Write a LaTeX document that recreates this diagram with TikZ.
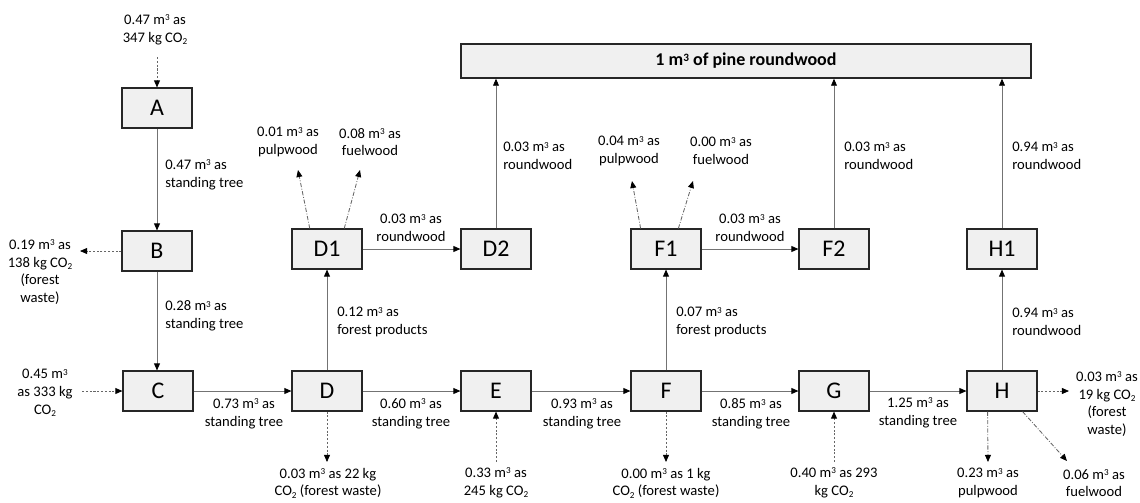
\documentclass[tikz,border=0pt]{standalone}
\usepackage{fontspec}
\setmainfont{Carlito}
\usetikzlibrary{arrows.meta}
\newcommand{\mcu}{m\raisebox{0.55ex}{\fontsize{6.5}{6.5}\selectfont 3}}
\newcommand{\mcubig}{m\raisebox{0.55ex}{\fontsize{8}{8}\selectfont\bfseries 3}}
\newcommand{\cotwo}{CO\raisebox{-0.35ex}{\fontsize{6.5}{6.5}\selectfont 2}}
\begin{document}
\begin{tikzpicture}[x=0.025cm,y=-0.025cm,
  box/.style={draw=black!85,line width=0.8pt,fill=black!6,minimum width=1.75cm,minimum height=1cm,inner sep=0pt,font=\fontsize{17}{20}\selectfont},
  bar/.style={draw=black!85,line width=1pt,fill=black!6,minimum width=14.25cm,minimum height=0.85cm,inner sep=0pt,font=\fontsize{12.8}{14}\selectfont\bfseries},
  lbl/.style={font=\fontsize{10.4}{12.6}\selectfont,align=center,inner sep=0pt},
  lbll/.style={lbl,align=left,anchor=west},
  tipstyle/.style={-{Triangle[length=5pt,width=4.2pt,color=black]}},
  flow/.style={draw=black!55,line width=0.6pt,tipstyle},
  dotarr/.style={draw=black!60,line width=0.6pt,dash pattern=on 1.5pt off 1.2pt,tipstyle},
  dasharr/.style={draw=black!60,line width=0.6pt,dash pattern=on 3pt off 1.2pt on 0.6pt off 1.2pt,tipstyle}]
\useasboundingbox (0,0) rectangle (1140,502);

% boxes
\node[box] (A) at (157,108) {A};
\node[box] (B) at (157,251) {B};
\node[box] (C) at (158,391) {C};
\node[box] (D) at (327,391) {D};
\node[box] (E) at (496,391) {E};
\node[box] (F) at (666,391) {F};
\node[box] (G) at (834,391) {G};
\node[box] (H) at (1002,391) {H};
\node[box] (D1) at (327,249) {D1};
\node[box] (D2) at (496,249) {D2};
\node[box] (F1) at (666,249) {F1};
\node[box] (F2) at (834,249) {F2};
\node[box] (H1) at (1002,249) {H1};
\node[bar] (R) at (746,61) {1 \mcubig\ of pine roundwood};

% free ends
\coordinate (inA) at (157,57);
\coordinate (oB) at (80,251);
\coordinate (iC) at (82,391);
\coordinate (oD) at (327,462);
\coordinate (iE) at (496,462);
\coordinate (oF) at (666,462);
\coordinate (iG) at (834,462);
\coordinate (hp) at (988,462);
\coordinate (hf) at (1067,461);
\coordinate (oH) at (1069,391);
\coordinate (d1p) at (298,170);
\coordinate (d1f) at (360,170);
\coordinate (f1p) at (632,181);
\coordinate (f1f) at (693,181);

% main flows
\draw[flow] (A) -- (B);
\draw[flow] (B) -- (B |- C.north);
\draw[flow] (C) -- (D);
\draw[flow] (D) -- (E);
\draw[flow] (E) -- (F);
\draw[flow] (F) -- (G);
\draw[flow] (G) -- (H);
\draw[flow] (D) -- (D1);
\draw[flow] (F) -- (F1);
\draw[flow] (H) -- (H1);
\draw[flow] (D1) -- (D2);
\draw[flow] (F1) -- (F2);
\draw[flow] (D2) -- (D2 |- R.south);
\draw[flow] (F2) -- (F2 |- R.south);
\draw[flow] (H1) -- (H1 |- R.south);

% in/out flows
\draw[dotarr] (inA) -- (A);
\draw[dotarr] (B) -- (oB);
\draw[dotarr] (iC) -- (C);
\draw[dotarr] (D) -- (oD);
\draw[dotarr] (iE) -- (E);
\draw[dotarr] (F) -- (oF);
\draw[dotarr] (iG) -- (G);
\draw[dotarr] (H) -- (oH);
\draw[dasharr] (H.-125) -- (hp);
\draw[dasharr] (H.-45) -- (hf);
\draw[dasharr] (D1.130) -- (d1p);
\draw[dasharr] (D1.50) -- (d1f);
\draw[dasharr] (F1.141) -- (f1p);
\draw[dasharr] (F1.59) -- (f1f);

% labels
\node[lbl] (tA) at (155,30) {0.47 \mcu\ as\\347 kg \cotwo};
\node[lbll] (lAB) at (165,175) {0.47 \mcu\ as\\standing tree};
\node[lbll] (lBC) at (165,316) {0.28 \mcu\ as\\standing tree};
\node[lbl] (tB) at (40,272) {0.19 \mcu\ as\\138 kg \cotwo\\(forest\\waste)};
\node[lbl] (tC) at (45,393) {0.45 \mcu\\as 333 kg\\\cotwo};
\node[lbl] (lCD) at (244,414) {0.73 \mcu\ as\\standing tree};
\node[lbl] (lDE) at (411,414) {0.60 \mcu\ as\\standing tree};
\node[lbl] (lEF) at (582,414) {0.93 \mcu\ as\\standing tree};
\node[lbl] (lFG) at (751,414) {0.85 \mcu\ as\\standing tree};
\node[lbl] (lGH) at (918,413) {1.25 \mcu\ as\\standing tree};
\node[lbl] (tD) at (328,483) {0.03 \mcu\ as 22 kg\\\cotwo\ (forest waste)};
\node[lbl] (tE) at (496,483) {0.33 \mcu\ as\\245 kg \cotwo};
\node[lbl] (tF) at (666,483) {0.00 \mcu\ as 1 kg\\\cotwo\ (forest waste)};
\node[lbl] (tG) at (834,483) {0.40 \mcu\ as 293\\kg \cotwo};
\node[lbl] (tHp) at (988,483) {0.23 \mcu\ as\\pulpwood};
\node[lbl] (tHf) at (1094,483) {0.06 \mcu\ as\\fuelwood};
\node[lbl] (tH) at (1107,404) {0.03 \mcu\ as\\19 kg \cotwo\\(forest\\waste)};
\node[lbll] (lDD1) at (337,322) {0.12 \mcu\ as\\forest products};
\node[lbll] (lFF1) at (676,322) {0.07 \mcu\ as\\forest products};
\node[lbll] (lHH1) at (1012,322) {0.94 \mcu\ as\\roundwood};
\node[lbl] (lD1D2) at (411,228) {0.03 \mcu\ as\\roundwood};
\node[lbl] (lF1F2) at (750,228) {0.03 \mcu\ as\\roundwood};
\node[lbl] (tD1p) at (288,142) {0.01 \mcu\ as\\pulpwood};
\node[lbl] (tD1f) at (370,142) {0.08 \mcu\ as\\fuelwood};
\node[lbl] (tF1p) at (629,151) {0.04 \mcu\ as\\pulpwood};
\node[lbl] (tF1f) at (721,151) {0.00 \mcu\ as\\fuelwood};
\node[lbll] (lD2R) at (503,156) {0.03 \mcu\ as\\roundwood};
\node[lbll] (lF2R) at (844,156) {0.03 \mcu\ as\\roundwood};
\node[lbll] (lH1R) at (1012,156) {0.94 \mcu\ as\\roundwood};
\end{tikzpicture}
\end{document}
